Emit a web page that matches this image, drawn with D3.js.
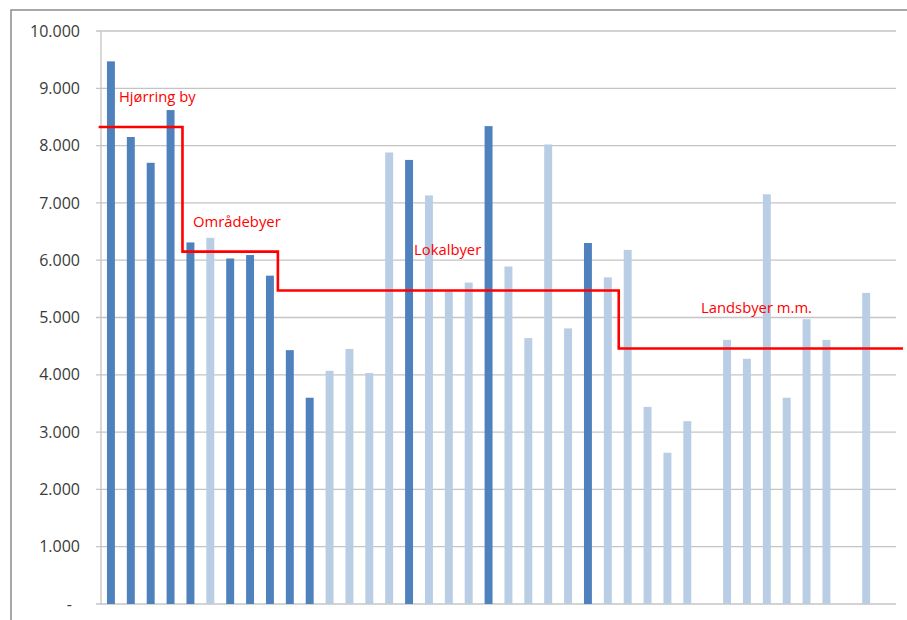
<!DOCTYPE html>
<html><head><meta charset="utf-8">
<script src="https://cdn.jsdelivr.net/npm/d3@7"></script>
<style>body{margin:0;background:#fff}svg{display:block}</style>
</head><body><svg id="c" width="907" height="620"></svg>
<script>
// ---- data ----
const categories = d3.range(1, 41).map(String);
const values = [9470, 8150, 7700, 8620, 6310, 6390, 6030, 6090, 5730, 4430,
                3600, 4070, 4450, 4030, 7880, 7750, 7130, 5460, 5610, 8340,
                5890, 4640, 8020, 4810, 6300, 5700, 6180, 3440, 2640, 3190,
                null, 4610, 4280, 7150, 3600, 4970, 4610, null, 5430, null];
const shades = ["d","d","d","d","d","l","d","d","d","d",
                "d","l","l","l","l","d","l","l","l","d",
                "l","l","l","l","d","l","l","l","l","l",
                "l","l","l","l","l","l","l","l","l","l"];
const yTicks = [0, 1000, 2000, 3000, 4000, 5000, 6000, 7000, 8000, 9000, 10000];
const yTickLabels = ["-", "1.000", "2.000", "3.000", "4.000", "5.000", "6.000", "7.000", "8.000", "9.000", "10.000"];
const groupNames = ["Hjørring by", "Områdebyer", "Lokalbyer", "Landsbyer m.m."];
const groupAvg = [8325, 6150, 5470, 4460];
const groupStart = [-0.12, 4.1, 8.9, 26.05];
const groupEnd = [4.1, 8.9, 26.05, 40.35];
const labelX = [0.9, 4.63, 15.75, 30.19];
const labelY = [8850, 6670, 6180, 5170];

// ---- layout ----
const svg = d3.select("#c");
const L = 101, R = 896, T = 31, B = 604;
const x = d3.scaleBand().domain(categories).range([L, R]).paddingInner(0.6).paddingOuter(0.3);
const xi = d3.scaleLinear().domain([0, categories.length]).range([L, R]);
const y = d3.scaleLinear().domain([0, 10000]).range([B, T]);

// outer frame
svg.append("rect").attr("x", 11).attr("y", 10).attr("width", 920).attr("height", 640)
  .attr("fill", "none").attr("stroke", "#8c8c8c").attr("stroke-width", 1.5);

// gridlines
svg.append("g").selectAll("line").data(yTicks).join("line")
  .attr("x1", L - 5).attr("x2", R).attr("y1", d => y(d)).attr("y2", d => y(d))
  .attr("stroke", "#c4c4c4").attr("stroke-width", 1.3);
// y axis line
svg.append("line").attr("x1", L).attr("x2", L).attr("y1", T).attr("y2", B)
  .attr("stroke", "#c4c4c4").attr("stroke-width", 1.3);

// y labels
svg.append("g").selectAll("text").data(yTicks).join("text")
  .attr("x", (d, i) => yTickLabels[i] === "-" ? 72 : 80)
  .attr("y", d => y(d)).attr("dy", "0.35em")
  .attr("text-anchor", "end")
  .attr("font-family", "Open Sans, sans-serif").attr("font-size", 16)
  .attr("fill", "#3a3a3a")
  .text((d, i) => yTickLabels[i]);

// bars
const barData = categories.map((c, i) => ({c, v: values[i], s: shades[i]})).filter(d => d.v != null);
svg.append("g").selectAll("rect").data(barData).join("rect")
  .attr("x", d => x(d.c)).attr("width", x.bandwidth())
  .attr("y", d => y(d.v)).attr("height", d => y(0) - y(d.v))
  .attr("fill", d => d.s === "d" ? "#4f81bd" : "#b9cde5");

// red step line
const pts = [];
groupAvg.forEach((v, i) => { pts.push([groupStart[i], v]); pts.push([groupEnd[i], v]); });
const line = d3.line().x(d => xi(d[0])).y(d => y(d[1]));
svg.append("path").attr("d", line(pts)).attr("fill", "none")
  .attr("stroke", "#ff0000").attr("stroke-width", 2.6);

// labels
svg.append("g").selectAll("text").data(groupNames).join("text")
  .attr("x", (d, i) => xi(labelX[i])).attr("y", (d, i) => y(labelY[i])).attr("dy", "0.35em")
  .attr("font-family", "Open Sans, sans-serif").attr("font-size", 14.8)
  .attr("fill", "#ff0000")
  .text(d => d);
</script></body></html>
